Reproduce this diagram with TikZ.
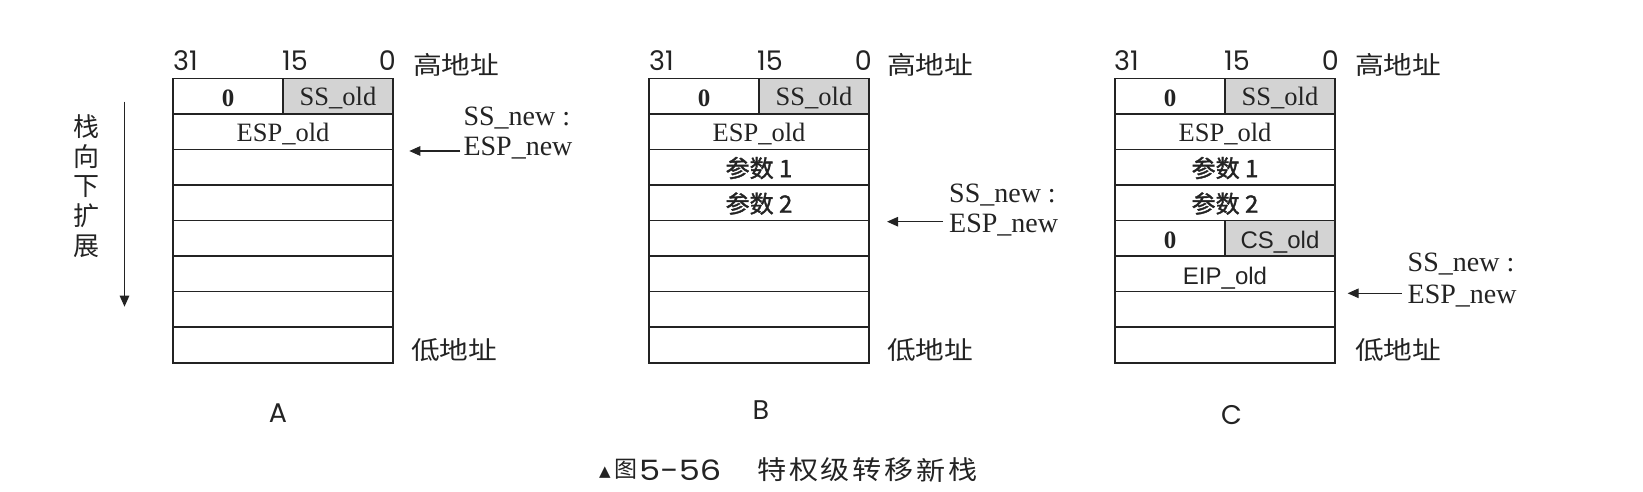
\documentclass[tikz,border=0pt]{standalone}
\usepackage{fontspec}
\usepackage{graphicx}
\setmainfont{Liberation Serif}
\newfontfamily\cjk{Noto Sans CJK SC}
\newfontfamily\cjkmid[FakeBold=1.6]{Noto Sans CJK SC}
\newfontfamily\geo{Poppins}
\newfontfamily\arialf{Liberation Sans}
\newfontfamily\symf{DejaVu Sans}
\usetikzlibrary{arrows.meta}
\newcommand\fsz[1]{\fontsize{#1pt}{#1pt}\selectfont}
\newcommand\wide[2]{\scalebox{#1}[1]{#2}}
\definecolor{cellgray}{RGB}{211,211,211}
\definecolor{ink}{RGB}{35,35,35}
\begin{document}
\begin{tikzpicture}[x=1pt,y=-1pt,
  cellbox/.style={draw=ink, line width=1.6pt, minimum width=220pt, minimum height=35.55pt,
    inner sep=0pt, outer sep=0pt, text=ink, font=\fsz{26.5}, text height=19pt, text depth=0pt},
  halfbox/.style={cellbox, minimum width=110pt},
  graybox/.style={halfbox, fill=cellgray},
  boldnum/.style={font=\fsz{25}\bfseries, text height=21pt},
  sanscell/.style={font=\arialf\fsz{24}, text height=21pt},
  cjkcell/.style={font=\cjkmid\fsz{24}, text height=20pt},
  bitlbl/.style={font=\geo\fsz{27}, text=ink, inner sep=0pt},
  addrlbl/.style={font=\cjk\fsz{25}, text=ink, inner sep=0pt, anchor=base west},
  ptrlbl/.style={font=\fsz{28}, text=ink, inner sep=0pt, anchor=base west},
  arr/.style={draw=ink, line width=1.1pt, -{Triangle[length=11pt,width=9.5pt]}},
  boxlbl/.style={font=\geo\fsz{27}, text=ink, inner sep=0pt, anchor=base},
  vchar/.style={font=\cjk\fsz{26}, text=ink, inner sep=0pt},
  capchar/.style={font=\cjk\fsz{26}, text=ink, inner sep=0pt}
]
\useasboundingbox (0,0) rectangle (1643,492);

% ---------------- Stack A ----------------
\node[halfbox, boldnum] (A0l) at (228,96.08) {0};
\node[graybox] (A0r) at (338,96.08) {SS\_old};
\node[cellbox] (A1) at (283,131.63) {ESP\_old};
\foreach \i in {2,...,7} \node[cellbox] (A\i) at (283,{78.3+35.55*\i+17.775}) {};
\node[bitlbl, anchor=base west] (Ab31) at (173,71) {31};
\node[bitlbl, anchor=base west] (Ab15) at (282,71) {15};
\node[bitlbl, anchor=base east] (Ab0) at (396,71) {0};
\node[addrlbl] (Ahi) at (413,75) {\wide{1.15}{高地址}};
\node[addrlbl] (Alo) at (411,359) {\wide{1.15}{低地址}};
\node[ptrlbl] (Ass) at (463.3,125) {SS\_new :};
\node[ptrlbl] (Aesp) at (463.3,155) {ESP\_new};
\coordinate (Atip) at (409.3,151);
\draw[arr] ([xshift=-3pt]Aesp.west |- Atip) -- (Atip);
\node[boxlbl] (Alab) at (278,422) {A};

% direction text and arrow
\foreach \c [count=\k from 0] in {栈,向,下,扩,展}
  \node[vchar] (dir\k) at (86,{127+29.7*\k}) {\c};
\coordinate (vtop) at (124.5,101.7);
\coordinate (vbot) at (124.5,306.7);
\draw[arr] (vtop) -- (vbot);

% ---------------- Stack B ----------------
\node[halfbox, boldnum] (B0l) at (704,96.08) {0};
\node[graybox] (B0r) at (814,96.08) {SS\_old};
\node[cellbox] (B1) at (759,131.63) {ESP\_old};
\node[cellbox, cjkcell] (B2) at (759,167.18) {参数 1};
\node[cellbox, cjkcell] (B3) at (759,202.73) {参数 2};
\foreach \i in {4,...,7} \node[cellbox] (B\i) at (759,{78.3+35.55*\i+17.775}) {};
\node[bitlbl, anchor=base west] (Bb31) at (649,71) {31};
\node[bitlbl, anchor=base west] (Bb15) at (757,71) {15};
\node[bitlbl, anchor=base east] (Bb0) at (872,71) {0};
\node[addrlbl] (Bhi) at (887,75) {\wide{1.15}{高地址}};
\node[addrlbl] (Blo) at (887,359) {\wide{1.15}{低地址}};
\node[ptrlbl] (Bss) at (949,202) {SS\_new :};
\node[ptrlbl] (Besp) at (949,232.7) {ESP\_new};
\coordinate (Btip) at (887,221.7);
\draw[arr] ([xshift=-6pt]Besp.west |- Btip) -- (Btip);
\node[boxlbl] (Blab) at (761,419) {B};

% ---------------- Stack C ----------------
\node[halfbox, boldnum] (C0l) at (1170,96.08) {0};
\node[graybox] (C0r) at (1280,96.08) {SS\_old};
\node[cellbox] (C1) at (1225,131.63) {ESP\_old};
\node[cellbox, cjkcell] (C2) at (1225,167.18) {参数 1};
\node[cellbox, cjkcell] (C3) at (1225,202.73) {参数 2};
\node[halfbox, boldnum] (C4l) at (1170,238.28) {0};
\node[graybox, sanscell] (C4r) at (1280,238.28) {CS\_old};
\node[cellbox, sanscell] (C5) at (1225,273.83) {EIP\_old};
\foreach \i in {6,7} \node[cellbox] (C\i) at (1225,{78.3+35.55*\i+17.775}) {};
\node[bitlbl, anchor=base west] (Cb31) at (1114,71) {31};
\node[bitlbl, anchor=base west] (Cb15) at (1224,71) {15};
\node[bitlbl, anchor=base east] (Cb0) at (1339,71) {0};
\node[addrlbl] (Chi) at (1355,75) {\wide{1.15}{高地址}};
\node[addrlbl] (Clo) at (1355,359) {\wide{1.15}{低地址}};
\node[ptrlbl] (Css) at (1407.5,271.7) {SS\_new :};
\node[ptrlbl] (Cesp) at (1407.5,303) {ESP\_new};
\coordinate (Ctip) at (1347.6,293.3);
\draw[arr] ([xshift=-6pt]Cesp.west |- Ctip) -- (Ctip);
\node[boxlbl] (Clab) at (1231.5,424) {C};

% ---------------- Caption ----------------
\node[font=\symf\fsz{15}, text=ink, inner sep=0pt] (captri) at (605,472.5) {▲};
\node[capchar, font=\cjk\fsz{23}] (capfig) at (625.5,469.5) {图};
\node[font=\geo\fsz{28}, text=ink, inner sep=0pt, anchor=base west] (capnum) at (639,480) {\wide{1.2}{5-56}};
\foreach \c [count=\k from 0] in {特,权,级,转,移,新,栈}
  \node[capchar] (cap\k) at ({771.7+31.9*\k},470) {\wide{1.12}{\c}};
\end{tikzpicture}
\end{document}
